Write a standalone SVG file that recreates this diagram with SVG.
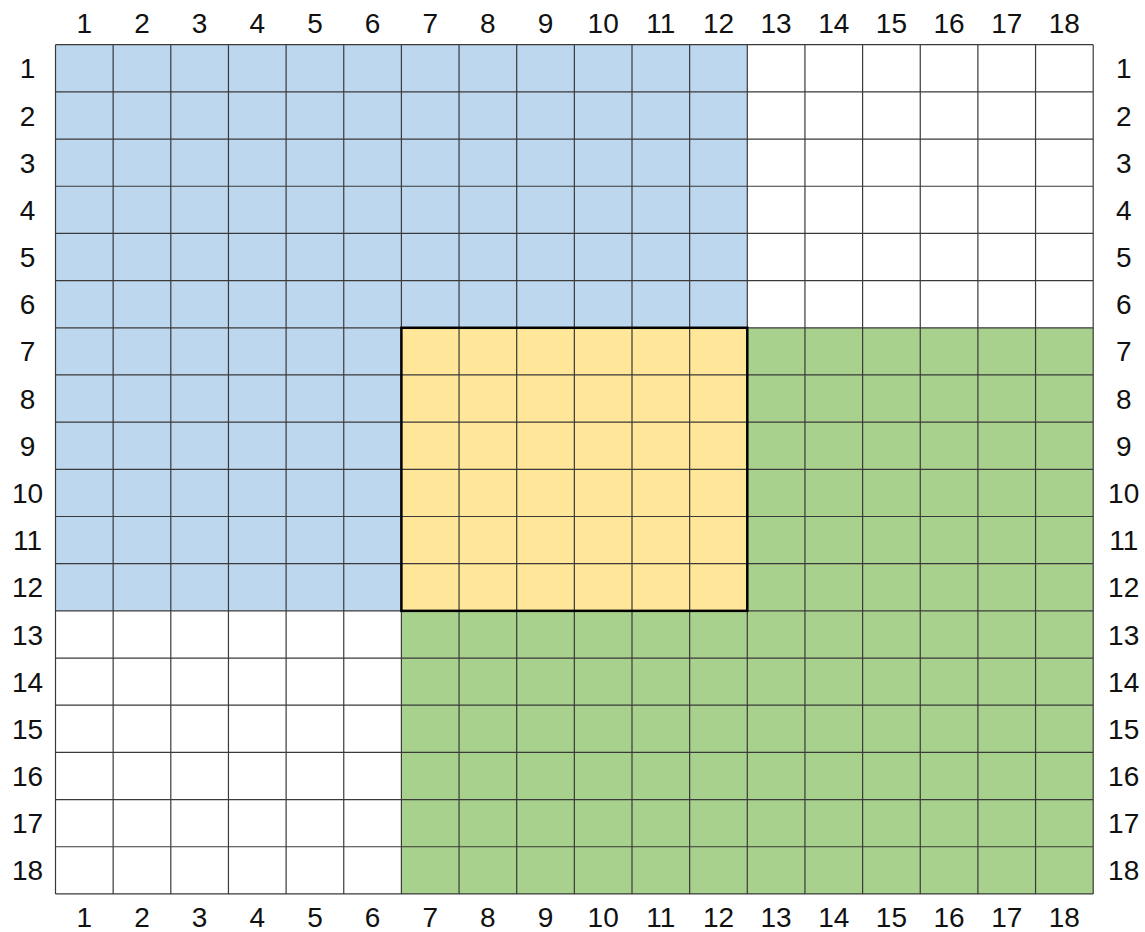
<svg xmlns="http://www.w3.org/2000/svg" width="1145" height="932" viewBox="0 0 1145 932">
<style>
.lbl{font-family:"Liberation Sans",Arial,sans-serif;font-size:28px;fill:#111;text-anchor:middle}
.grid{stroke:#3a3a3a;stroke-width:1.2;fill:none}
.blue{fill:#BDD7EE}.yel{fill:#FFE699}.grn{fill:#A9D18E}
</style>
<rect width="1145" height="932" fill="#fff"/>
<g id="regions">
<rect class="blue" x="55.5" y="44.7" width="691.8" height="283.08"/>
<rect class="blue" x="55.5" y="327.78" width="345.9" height="283.08"/>
<rect class="yel" x="401.4" y="327.78" width="345.9" height="283.08"/>
<rect class="grn" x="747.3" y="327.78" width="345.9" height="283.08"/>
<rect class="grn" x="401.4" y="610.86" width="691.8" height="283.08"/>
</g>
<g id="grid">
<path class="grid" d="M55.5 44.7V893.94M113.15 44.7V893.94M170.8 44.7V893.94M228.45 44.7V893.94M286.1 44.7V893.94M343.75 44.7V893.94M401.4 44.7V893.94M459.05 44.7V893.94M516.7 44.7V893.94M574.35 44.7V893.94M632 44.7V893.94M689.65 44.7V893.94M747.3 44.7V893.94M804.95 44.7V893.94M862.6 44.7V893.94M920.25 44.7V893.94M977.9 44.7V893.94M1035.55 44.7V893.94M1093.2 44.7V893.94
M55.5 44.7H1093.2M55.5 91.88H1093.2M55.5 139.06H1093.2M55.5 186.24H1093.2M55.5 233.42H1093.2M55.5 280.6H1093.2M55.5 327.78H1093.2M55.5 374.96H1093.2M55.5 422.14H1093.2M55.5 469.32H1093.2M55.5 516.5H1093.2M55.5 563.68H1093.2M55.5 610.86H1093.2M55.5 658.04H1093.2M55.5 705.22H1093.2M55.5 752.4H1093.2M55.5 799.58H1093.2M55.5 846.76H1093.2M55.5 893.94H1093.2"/>
<rect x="401.4" y="327.78" width="345.9" height="283.08" fill="none" stroke="#000" stroke-width="2.5"/>
</g>
<g id="top-labels">
<text class="lbl" x="84.33" y="33">1</text><text class="lbl" x="141.98" y="33">2</text><text class="lbl" x="199.63" y="33">3</text><text class="lbl" x="257.28" y="33">4</text><text class="lbl" x="314.93" y="33">5</text><text class="lbl" x="372.58" y="33">6</text><text class="lbl" x="430.23" y="33">7</text><text class="lbl" x="487.88" y="33">8</text><text class="lbl" x="545.53" y="33">9</text><text class="lbl" x="603.18" y="33">10</text><text class="lbl" x="660.83" y="33">11</text><text class="lbl" x="718.48" y="33">12</text><text class="lbl" x="776.13" y="33">13</text><text class="lbl" x="833.78" y="33">14</text><text class="lbl" x="891.43" y="33">15</text><text class="lbl" x="949.08" y="33">16</text><text class="lbl" x="1006.73" y="33">17</text><text class="lbl" x="1064.38" y="33">18</text>
</g>
<g id="bottom-labels">
<text class="lbl" x="84.33" y="927">1</text><text class="lbl" x="141.98" y="927">2</text><text class="lbl" x="199.63" y="927">3</text><text class="lbl" x="257.28" y="927">4</text><text class="lbl" x="314.93" y="927">5</text><text class="lbl" x="372.58" y="927">6</text><text class="lbl" x="430.23" y="927">7</text><text class="lbl" x="487.88" y="927">8</text><text class="lbl" x="545.53" y="927">9</text><text class="lbl" x="603.18" y="927">10</text><text class="lbl" x="660.83" y="927">11</text><text class="lbl" x="718.48" y="927">12</text><text class="lbl" x="776.13" y="927">13</text><text class="lbl" x="833.78" y="927">14</text><text class="lbl" x="891.43" y="927">15</text><text class="lbl" x="949.08" y="927">16</text><text class="lbl" x="1006.73" y="927">17</text><text class="lbl" x="1064.38" y="927">18</text>
</g>
<g id="left-labels">
<text class="lbl" x="27.5" y="78.3">1</text><text class="lbl" x="27.5" y="125.5">2</text><text class="lbl" x="27.5" y="172.7">3</text><text class="lbl" x="27.5" y="219.8">4</text><text class="lbl" x="27.5" y="267">5</text><text class="lbl" x="27.5" y="314.2">6</text><text class="lbl" x="27.5" y="361.4">7</text><text class="lbl" x="27.5" y="408.6">8</text><text class="lbl" x="27.5" y="455.7">9</text><text class="lbl" x="27.5" y="502.9">10</text><text class="lbl" x="27.5" y="550.1">11</text><text class="lbl" x="27.5" y="597.3">12</text><text class="lbl" x="27.5" y="644.5">13</text><text class="lbl" x="27.5" y="691.6">14</text><text class="lbl" x="27.5" y="738.8">15</text><text class="lbl" x="27.5" y="786">16</text><text class="lbl" x="27.5" y="833.2">17</text><text class="lbl" x="27.5" y="880.4">18</text>
</g>
<g id="right-labels">
<text class="lbl" x="1123.7" y="78.3">1</text><text class="lbl" x="1123.7" y="125.5">2</text><text class="lbl" x="1123.7" y="172.7">3</text><text class="lbl" x="1123.7" y="219.8">4</text><text class="lbl" x="1123.7" y="267">5</text><text class="lbl" x="1123.7" y="314.2">6</text><text class="lbl" x="1123.7" y="361.4">7</text><text class="lbl" x="1123.7" y="408.6">8</text><text class="lbl" x="1123.7" y="455.7">9</text><text class="lbl" x="1123.7" y="502.9">10</text><text class="lbl" x="1123.7" y="550.1">11</text><text class="lbl" x="1123.7" y="597.3">12</text><text class="lbl" x="1123.7" y="644.5">13</text><text class="lbl" x="1123.7" y="691.6">14</text><text class="lbl" x="1123.7" y="738.8">15</text><text class="lbl" x="1123.7" y="786">16</text><text class="lbl" x="1123.7" y="833.2">17</text><text class="lbl" x="1123.7" y="880.4">18</text>
</g>
</svg>
